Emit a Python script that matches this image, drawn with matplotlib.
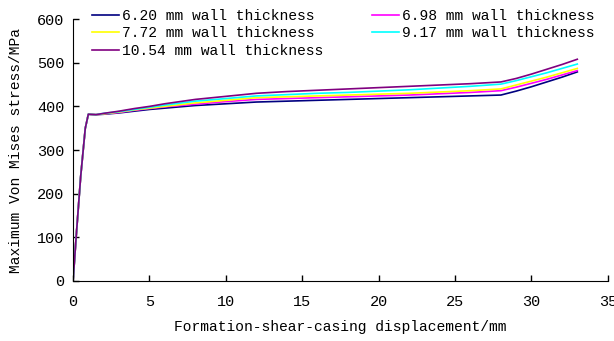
import matplotlib
matplotlib.use("Agg")
import matplotlib.pyplot as plt

# displacement (mm)
disp = [0, 0.2, 0.5, 0.8, 1.0, 1.5, 2, 3, 4, 5, 6, 8, 10, 12, 14, 16, 18,
        20, 22, 24, 26, 28, 29, 30, 31, 32, 33]

# max Von Mises stress (MPa) per wall thickness
s_620  = [0, 100, 240, 350, 382, 381, 382, 385, 389, 393, 396, 402, 406, 410,
          412, 414, 416, 418, 420, 422, 424, 426, 435, 445, 456, 467, 479]
s_698  = [0, 100, 240, 350, 382, 381, 383, 386, 391, 395, 399, 405, 411, 416,
          418, 420, 422, 424, 426, 429, 432, 436, 444, 453, 462, 472, 482]
s_772  = [0, 100, 240, 350, 382, 381, 383, 387, 392, 396, 400, 408, 414, 420,
          422, 424, 426, 428, 430, 433, 436, 440, 449, 458, 467, 477, 487]
s_917  = [0, 100, 240, 350, 382, 381, 384, 388, 393, 398, 403, 412, 418, 424,
          427, 430, 432, 435, 438, 442, 446, 451, 459, 468, 477, 487, 497]
s_1054 = [0, 100, 240, 350, 382, 381, 384, 389, 395, 400, 406, 416, 423, 430,
          434, 437, 440, 443, 446, 449, 452, 456, 464, 474, 485, 496, 508]

labels = ["6.20 mm wall thickness", "6.98 mm wall thickness", "7.72 mm wall thickness",
          "9.17 mm wall thickness", "10.54 mm wall thickness"]
colors = ["#000080", "#ff00ff", "#ffff00", "#00ffff", "#800080"]
series = [s_620, s_698, s_772, s_917, s_1054]

plt.rcParams["font.family"] = ["Liberation Mono", "DejaVu Sans"]

fig = plt.figure(figsize=(6.14, 3.41), dpi=100)
ax = fig.add_axes([0.119, 0.176, 0.871, 0.768])

lines = []
for s, c, lab in zip(series, colors, labels):
    ln, = ax.plot(disp, s, color=c, lw=1.2, label=lab)
    lines.append(ln)

ax.set_xlim(0, 35)
ax.set_ylim(0, 600)
ax.set_xticks(range(0, 36, 5))
ax.set_yticks(range(0, 601, 100))
ax.tick_params(direction="in", length=4, labelsize=11, width=1)
ax.tick_params(axis="x", pad=10)
ax.tick_params(axis="y", pad=6)
ax.spines["top"].set_visible(False)
ax.spines["right"].set_visible(False)
ax.set_xlabel("Formation-shear-casing displacement/mm", fontsize=10.5, labelpad=8)
ax.set_ylabel("Maximum Von Mises stress/MPa", fontsize=10.5, labelpad=10)

order = [0, 2, 4, 1, 3]
ax.legend([lines[i] for i in order], [labels[i] for i in order], ncol=2,
          loc="upper left", bbox_to_anchor=(0.035, 1.04), frameon=False,
          fontsize=10.5, handlelength=1.9, handletextpad=0.2,
          columnspacing=3.3, labelspacing=0.25, borderaxespad=0.0,
          borderpad=0.0)

fig.savefig("out.png", dpi=100)
